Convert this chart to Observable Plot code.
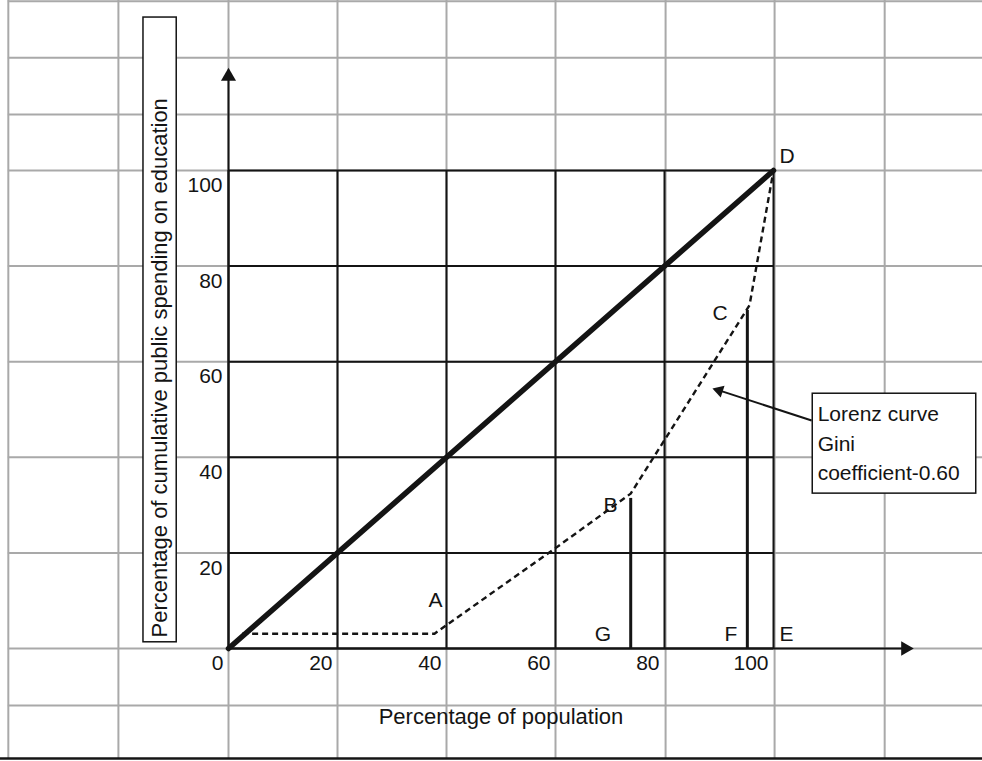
<!DOCTYPE html>
<html>
<head>
<meta charset="utf-8">
<script src="https://cdn.jsdelivr.net/npm/d3@7"></script>
<script src="https://cdn.jsdelivr.net/npm/@observablehq/plot@0.6"></script>
<style>
  html, body { margin: 0; padding: 0; background: #ffffff; }
  #chart svg { display: block; }
</style>
</head>
<body>
<div id="chart"></div>
<script>
// Spreadsheet cell boundaries behind the chart (in chart units)
const sheetColumns = [-40.4, -20.2, 0, 20, 40, 60, 80.2, 100.2, 120.4];
const sheetRows = [135.4, 123.6, 111.7, 100, 80, 60, 40, 20, 0, -11.9];
const sheetBottom = [-23];

// Chart grid and tick labels
const gridValues = [0, 20, 40, 60, 80, 100];
const xTickValues = [0, 20, 40, 60, 80, 100];
const xTickLabels = ["0", "20", "40", "60", "80", "100"];
const yTickValues = [20, 40, 60, 80, 100];
const yTickLabels = ["20", "40", "60", "80", "100"];

// Line of equality
const equalityX = [0, 100];
const equalityY = [0, 100];

// Lorenz curve (percentage of population vs cumulative spending)
const lorenzX = [2.5, 37.8, 40.5, 60, 73.8, 95.6, 100];
const lorenzY = [3.1, 3.1, 5.3, 21, 32.4, 71.8, 100];

// Vertical drop lines at B and C
const dropX = [73.8, 95.2];
const dropTop = [31.4, 70.7];

// Point labels
const pointNames = ["A", "B", "C", "D", "E", "F", "G"];
const pointX = [38, 70.1, 90.2, 102.5, 102.4, 92.2, 68.7];
const pointY = [10, 29.9, 70.1, 103, 2.9, 2.9, 2.9];

const xTitle = "Percentage of population";
const yTitle = "Percentage of cumulative public spending on education";
const noteText = "Lorenz curve\nGini\ncoefficient-0.60";

const gray = "#a9a9a9";
const ink = "#141414";

const chart = Plot.plot({
  width: 982,
  height: 761,
  margin: 0,
  x: {domain: [0, 100], range: [228, 773], axis: null},
  y: {domain: [0, 100], range: [648, 170], axis: null},
  style: {
    fontFamily: "'Liberation Sans', Arial, sans-serif",
    fontSize: "21px",
    background: "#ffffff",
    color: ink
  },
  marks: [
    // spreadsheet gray grid
    Plot.ruleY(sheetRows, {y: d => d, x1: -40.4, x2: 140, stroke: gray, strokeWidth: 2}),
    Plot.ruleX(sheetColumns, {x: d => d, y1: -23, y2: 136, stroke: gray, strokeWidth: 2}),
    Plot.ruleY(sheetBottom, {y: d => d, stroke: ink, strokeWidth: 2.5}),

    // chart black grid
    Plot.ruleX(gridValues, {x: d => d, y1: 0, y2: 100, stroke: ink, strokeWidth: 2}),
    Plot.ruleY(gridValues, {y: d => d, x1: 0, x2: 100, stroke: ink, strokeWidth: 2}),

    // axes with arrows
    Plot.ruleX([0], {y1: 0, y2: 119, stroke: ink, strokeWidth: 2}),
    Plot.ruleY([0], {x1: 0, x2: 124, stroke: ink, strokeWidth: 2}),
    Plot.dot([0], {x: 0, y: 119.7, symbol: "triangle", r: 5.6, fill: ink, stroke: "none"}),
    Plot.dot([0], {x: 124.2, y: 0, symbol: "triangle", r: 5.4, rotate: 90, fill: ink, stroke: "none"}),

    // tick labels
    Plot.text(xTickValues, {x: d => d, y: 0, text: (d, i) => xTickLabels[i], textAnchor: "end", dx: -5, dy: 15, lineAnchor: "middle"}),
    Plot.text(yTickValues, {x: 0, y: d => d, text: (d, i) => yTickLabels[i], textAnchor: "end", dx: -6, dy: 15, lineAnchor: "middle"}),

    // axis titles
    Plot.text([xTitle], {x: 50, y: -14.3, text: d => d, lineAnchor: "middle", fontSize: 22}),
    Plot.rect([0], {x1: -15.6, x2: -9.5, y1: 1.3, y2: 132, fill: "#ffffff", stroke: ink, strokeWidth: 1.5}),
    Plot.text([yTitle], {x: -11.3, y: 2.3, text: d => d, rotate: -90, textAnchor: "start", lineAnchor: "bottom", fontSize: 22}),

    // line of equality
    Plot.line(equalityX, {x: equalityX, y: equalityY, stroke: ink, strokeWidth: 5.5, strokeLinecap: "round"}),

    // Lorenz curve
    Plot.line(lorenzX, {x: lorenzX, y: lorenzY, stroke: ink, strokeWidth: 2.4, strokeDasharray: "6,4", strokeLinecap: "butt"}),

    // drop lines
    Plot.ruleX(dropX, {x: d => d, y1: 0, y2: (d, i) => dropTop[i], stroke: ink, strokeWidth: 3}),

    // point labels
    Plot.text(pointNames, {x: (d, i) => pointX[i], y: (d, i) => pointY[i], text: d => d, lineAnchor: "middle"}),

    // annotation box and arrow
    Plot.rect([0], {x1: 107.2, x2: 137.2, y1: 32.4, y2: 53.3, fill: "#ffffff", stroke: ink, strokeWidth: 1.5}),
    Plot.text([noteText], {x: 108.1, y: 51.9, text: d => d, textAnchor: "start", lineAnchor: "top", lineHeight: 1.4}),
    Plot.link([0], {x1: 107.0, y1: 47.7, x2: 90.3, y2: 53.9, stroke: ink, strokeWidth: 2}),
    Plot.dot([0], {x: 90.04, y: 53.95, symbol: "triangle", r: 4.6, rotate: -72, fill: ink, stroke: "none"})
  ]
});

document.getElementById("chart").appendChild(chart);
</script>
</body>
</html>
